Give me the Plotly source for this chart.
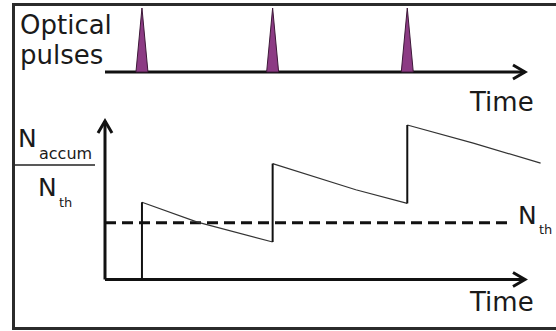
import plotly.graph_objects as go

# ---- data -------------------------------------------------------------
# time in pulse periods, signal in units of the threshold N_th
pulse_times = [0.28, 1.27, 2.29]
pulse_amps = [1.0, 1.0, 1.0]

level_before = [0.0, 0.66, 1.34]      # N_accum/N_th just before each pulse
level_after = [1.36, 2.04, 2.72]      # N_accum/N_th just after each pulse
decay_mid_t = [0.70, 1.90, 2.79]      # a point part-way along each decay
decay_mid_v = [1.01, 1.58, 2.40]
signal_end_t = 3.30
signal_end_v = 2.05
threshold = 1.0

# ---- geometry / scales --------------------------------------------------
W, H = 556, 331
X0_PX, PX_PER_T = 105, 132            # time origin and pixels per period
Y0_PX, PX_PER_N = 279.5, 56.8         # lower panel zero and pixels per N_th
Y2_PX, PX_PER_P = 72, 64              # pulse-train baseline and pulse height

x_range = [(0 - X0_PX) / PX_PER_T, (W - X0_PX) / PX_PER_T]
y_range = [(Y0_PX - H) / PX_PER_N, (Y0_PX - 0) / PX_PER_N]
y2_range = [(Y2_PX - H) / PX_PER_P, (Y2_PX - 0) / PX_PER_P]

t_axis_end = (525 - X0_PX) / PX_PER_T
n_axis_end = (Y0_PX - 121) / PX_PER_N
thr_end = (509 - X0_PX) / PX_PER_T
pulse_half_w = 6 / PX_PER_T

AX = "#111111"
FONT = "DejaVu Sans"


def px(xp):
    return xp / W


def py(yp):
    return 1 - yp / H


fig = go.Figure()

# pulse train baseline
fig.add_trace(go.Scatter(x=[0, t_axis_end], y=[0, 0], yaxis="y2",
                         mode="lines", line=dict(color=AX, width=3),
                         hoverinfo="skip"))

# optical pulses
for t, a in zip(pulse_times, pulse_amps):
    fig.add_trace(go.Scatter(x=[t - pulse_half_w, t, t + pulse_half_w, t - pulse_half_w],
                             y=[0, a, 0, 0], yaxis="y2", mode="lines",
                             fill="toself", fillcolor="#8C3B84",
                             line=dict(color="#3d1838", width=1),
                             hoverinfo="skip"))

# lower panel axes
fig.add_trace(go.Scatter(x=[0, t_axis_end], y=[0, 0], mode="lines",
                         line=dict(color=AX, width=3), hoverinfo="skip"))
fig.add_trace(go.Scatter(x=[0, 0], y=[0, n_axis_end], mode="lines",
                         line=dict(color=AX, width=3), hoverinfo="skip"))


def chevron_h(tip_t, yref):
    dx = 12 / PX_PER_T
    dy = 7 / (PX_PER_N if yref == "y" else PX_PER_P)
    return go.Scatter(x=[tip_t - dx, tip_t, tip_t - dx], y=[dy, 0, -dy],
                      yaxis=yref, mode="lines",
                      line=dict(color=AX, width=3), hoverinfo="skip")


fig.add_trace(chevron_h(t_axis_end, "y2"))
fig.add_trace(chevron_h(t_axis_end, "y"))
dxv = 7 / PX_PER_T
dyv = 12 / PX_PER_N
fig.add_trace(go.Scatter(x=[-dxv, 0, dxv], y=[n_axis_end - dyv, n_axis_end, n_axis_end - dyv],
                         mode="lines", line=dict(color=AX, width=3), hoverinfo="skip"))

# threshold
fig.add_trace(go.Scatter(x=[0, thr_end], y=[threshold, threshold], mode="lines",
                         line=dict(color=AX, width=3, dash="11px,6px"),
                         hoverinfo="skip"))

# accumulated signal: decays (thin) and jumps (thick)
dec_x, dec_y = [], []
for i in range(len(pulse_times)):
    nxt_t = pulse_times[i + 1] if i + 1 < len(pulse_times) else signal_end_t
    nxt_v = level_before[i + 1] if i + 1 < len(pulse_times) else signal_end_v
    dec_x += [pulse_times[i], decay_mid_t[i], nxt_t, None]
    dec_y += [level_after[i], decay_mid_v[i], nxt_v, None]
fig.add_trace(go.Scatter(x=dec_x, y=dec_y, mode="lines",
                         line=dict(color="#333333", width=1.2), hoverinfo="skip"))

jmp_x, jmp_y = [], []
for t, b, a in zip(pulse_times, level_before, level_after):
    jmp_x += [t, t, None]
    jmp_y += [b, a, None]
fig.add_trace(go.Scatter(x=jmp_x, y=jmp_y, mode="lines",
                         line=dict(color="#111111", width=2), hoverinfo="skip"))

# frame
shapes = [dict(type="rect", xref="paper", yref="paper",
               x0=px(13.5), x1=1.05, y0=py(328.5), y1=py(4.5),
               line=dict(color="#2b2b2b", width=3))]
# fraction bar of the y label
shapes.append(dict(type="line", xref="paper", yref="paper",
                   x0=px(15), x1=px(95), y0=py(165), y1=py(165),
                   line=dict(color="#222222", width=1.5)))


def label(text, xl, yc, size):
    return dict(text=text, xref="paper", yref="paper", x=px(xl), y=py(yc),
                xanchor="left", yanchor="middle", showarrow=False,
                font=dict(family=FONT, size=size, color="#1a1a1a"))


annotations = [
    label("Optical", 18, 25, 26),
    label("pulses", 18, 55, 26),
    label("Time", 467, 102, 26),
    label("Time", 467, 302, 26),
    label("N", 16, 139, 25),
    label("accum", 37, 153, 16),
    label("N", 36, 187, 25),
    label("th", 57, 202, 13),
    label("N", 516, 215, 25),
    label("th", 537, 229, 13),
]

fig.update_layout(
    width=W, height=H,
    margin=dict(l=0, r=0, t=0, b=0),
    paper_bgcolor="white", plot_bgcolor="white",
    showlegend=False,
    xaxis=dict(range=x_range, visible=False, fixedrange=True),
    yaxis=dict(range=y_range, visible=False, fixedrange=True),
    yaxis2=dict(range=y2_range, visible=False, overlaying="y", fixedrange=True),
    shapes=shapes,
    annotations=annotations,
)

fig.write_html("out.html")
